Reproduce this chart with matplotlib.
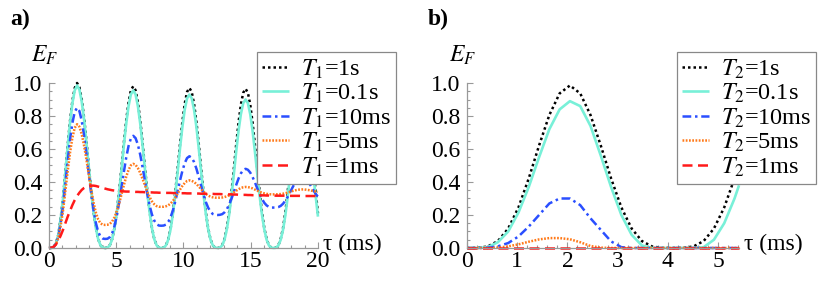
import numpy as np
import matplotlib
matplotlib.use("Agg")
import matplotlib.pyplot as plt
from matplotlib.ticker import MultipleLocator

plt.rcParams["font.family"] = "serif"
plt.rcParams["font.serif"] = ["Liberation Serif", "STIXGeneral", "DejaVu Serif"]
plt.rcParams["mathtext.fontset"] = "stix"

# panel a: tau sampled every 1/24 of the oscillation period, plus the end point
tau_a = np.append(np.arange(115) * 0.174, 20.0)

black_a = [0, .001, .006, .03, .08, .18, .30, .46, .62, .77, .89, .97, 1.0,
           .975, .901, .789, .650, .499, .354, .226, .125, .056, .017, .002,
           0, .002, .017, .055, .123, .221, .347, .489, .637, .773, .883, .956,
           .98, .956, .883, .773, .637, .489, .347, .221, .123, .055, .017, .002,
           0, .002, .016, .054, .121, .219, .343, .484, .631, .765, .874, .946,
           .97, .946, .874, .765, .631, .484, .343, .219, .121, .054, .016, .002,
           0, .002, .016, .054, .121, .218, .342, .482, .627, .761, .869, .941,
           .965, .941, .869, .761, .627, .482, .342, .218, .121, .054, .016, .002,
           0, .002, .016, .054, .12, .217, .340, .479, .624, .757, .865, .936,
           .96, .936, .865, .757, .624, .479, .340, .21]
cyan_a = [0, .001, .006, .030, .079, .177, .296, .453, .611, .758, .877, .955, .985,
          .960, .887, .777, .640, .492, .349, .223, .123, .055, .017, .002,
          0, .002, .016, .053, .119, .216, .338, .477, .621, .753, .860, .931,
          .955, .931, .860, .753, .621, .477, .338, .216, .119, .053, .016, .002,
          0, .002, .016, .052, .116, .210, .329, .464, .605, .734, .838, .907,
          .93, .907, .838, .734, .605, .464, .329, .210, .116, .052, .016, .002,
          0, .002, .015, .050, .113, .203, .319, .449, .585, .710, .811, .878,
          .90, .878, .811, .710, .585, .449, .319, .203, .113, .050, .015, .002,
          0, .002, .015, .049, .109, .198, .310, .437, .569, .690, .788, .853,
          .875, .853, .788, .690, .569, .437, .310, .19]
blue_a = [0, .001, .005, .026, .068, .153, .255, .391, .527, .655, .757, .825, .85,
          .830, .771, .682, .572, .452, .336, .235, .154, .100, .069, .057,
          .055, .056, .066, .090, .133, .196, .276, .367, .461, .548, .618, .664,
          .68, .666, .626, .565, .489, .407, .328, .258, .203, .166, .144, .136,
          .135, .136, .142, .159, .188, .230, .284, .345, .409, .467, .514, .545,
          .556, .547, .521, .481, .431, .378, .326, .280, .245, .220, .206, .201,
          .20, .201, .205, .216, .235, .263, .299, .340, .382, .421, .452, .473,
          .48, .474, .457, .430, .398, .362, .328, .298, .274, .258, .249, .245,
          .245, .245, .248, .255, .268, .287, .310, .337, .365, .391, .412, .425,
          .43, .426, .414, .396, .374, .350, .327, .31]
orange_a = [0, .001, .0045, .023, .06, .135, .225, .345, .465, .578, .668, .728, .75,
            .735, .690, .621, .537, .444, .356, .278, .216, .174, .150, .141,
            .14, .141, .146, .161, .186, .224, .271, .325, .381, .432, .473, .501,
            .51, .504, .484, .455, .419, .380, .342, .309, .283, .265, .254, .25,
            .25, .25, .253, .259, .27, .286, .307, .330, .354, .376, .394, .406,
            .41, .407, .400, .388, .373, .357, .342, .329, .318, .311, .307, .305,
            .305, .305, .306, .309, .313, .320, .328, .337, .347, .356, .364, .368,
            .37, .369, .366, .361, .354, .347, .341, .335, .331, .328, .326, .325,
            .325, .325, .326, .327, .329, .332, .336, .340, .345, .349, .352, .354,
            .355, .355, .353, .351, .348, .345, .342, .34]
red_a = [0, .002, .008, .022, .045, .075, .11, .15, .19, .225, .26, .29,
         .315, .335, .352, .364, .372, .376, .378, .378, .376, .372, .368, .364,
         .360, .356, .353, .350, .348, .346, .345, .344, .343, .342, .342, .341,
         .341, .340, .340, .339, .339, .338, .338, .337, .337, .336, .336, .335,
         .335, .335, .334, .334, .334, .333, .333, .333, .332, .332, .332, .331,
         .331, .331, .330, .330, .330, .329, .329, .329, .328, .328, .328, .327,
         .327, .327, .326, .326, .326, .325, .325, .324, .324, .323, .323, .322,
         .322, .321, .321, .320, .320, .320, .319, .319, .319, .318, .318, .318,
         .318, .317, .317, .317, .317, .317, .316, .316, .316, .316, .316, .316,
         .315, .315, .315, .315, .315, .315, .315, .315]

# panel b
tau_b = np.append(np.arange(27) * 0.205, 5.42)

black_b = [0, .0006, .009, .042, .118, .246, .422, .621, .806, .937, .985,
           .937, .806, .621, .422, .246, .118, .042, .009, .0006, 0,
           .0006, .009, .042, .118, .246, .422, .51]
cyan_b = [0, 0, .005, .035, .10, .215, .37, .55, .72, .84, .89,
          .86, .74, .56, .37, .20, .08, .015, 0, 0, 0,
          0, 0, .005, .05, .15, .30, .38]
blue_b = [0, 0, .002, .01, .03, .07, .13, .20, .27, .30, .30,
          .26, .18, .11, .04, .005, 0, 0, 0, 0, 0,
          0, 0, 0, 0, 0, 0, 0]
orange_b = [0, 0, 0, .002, .01, .022, .038, .052, .06, .06, .053,
            .035, .012, .002, 0, 0, 0, 0, 0, 0, 0,
            0, 0, 0, 0, 0, 0, 0]
red_b = [0] * 28

labels_val = ["1s", "0.1s", "10ms", "5ms", "1ms"]

styles = [
    dict(color="black", lw=1.8, ls=(0, (1, 1.2))),
    dict(color="#78f0d8", lw=1.9, ls="-"),
    dict(color="#2a4fff", lw=1.8, ls=(0, (3.5, 1.5, 1, 1.5))),
    dict(color="#ff7a1a", lw=1.8, ls=(0, (0.7, 0.6))),
    dict(color="#ff1a1a", lw=1.8, ls=(0, (4, 2.2))),
]

fig = plt.figure(figsize=(8.3, 2.88), dpi=100)
ax_a = fig.add_axes([0.0590, 0.1389, 0.3241, 0.5729])
ax_b = fig.add_axes([0.5627, 0.1389, 0.3277, 0.5729])

panels = [
    (ax_a, tau_a, [black_a, cyan_a, blue_a, orange_a, red_a], "1", 20, 5, 1),
    (ax_b, tau_b, [black_b, cyan_b, blue_b, orange_b, red_b], "2", 5.42, 1, 0.2),
]

for ax, tau, series, sub, xmax, xmaj, xmin in panels:
    for vals, lab, st in zip(series, labels_val, styles):
        ax.plot(tau, vals, label=r"$T_{%s}$=%s" % (sub, lab), clip_on=False,
                solid_capstyle="butt", dash_capstyle="butt", **st)
    ax.set_xlim(0, xmax)
    ax.set_ylim(0, 1.0)
    ax.xaxis.set_major_locator(MultipleLocator(xmaj))
    ax.xaxis.set_minor_locator(MultipleLocator(xmin))
    ax.yaxis.set_major_locator(MultipleLocator(0.2))
    ax.yaxis.set_minor_locator(MultipleLocator(0.05))
    ax.yaxis.set_major_formatter(plt.FuncFormatter(lambda v, p: "%.1f" % v))
    for s in ["top", "right"]:
        ax.spines[s].set_visible(False)
    for s in ["left", "bottom"]:
        ax.spines[s].set_color("#999999")
        ax.spines[s].set_linewidth(0.9)
    ax.tick_params(which="both", direction="in", color="#999999",
                   labelsize=17, width=0.8)
    ax.tick_params(which="major", length=4.5)
    ax.tick_params(which="minor", length=2.5)
    ax.tick_params(axis="x", pad=2)
    ax.tick_params(axis="y", pad=5)
    ax.patch.set_visible(False)
    ax.text(-0.065, 1.10, r"$E_F$", transform=ax.transAxes, fontsize=17,
            ha="left", va="bottom")
    ax.text(1.02, 0.02, "τ (ms)", transform=ax.transAxes, fontsize=17,
            ha="left", va="center")
    leg = ax.legend(loc="upper left", bbox_to_anchor=(0.773, 1.185),
                    fontsize=17.5, frameon=True, fancybox=False,
                    borderpad=0.2, labelspacing=0.05, handlelength=1.1,
                    handletextpad=0.5, borderaxespad=0)
    leg.get_frame().set_edgecolor("#888888")
    leg.get_frame().set_linewidth(0.9)
    leg.get_frame().set_alpha(1)

fig.text(10 / 830, 1 - 25 / 288, "a)", fontsize=17, fontweight="bold")
fig.text(428 / 830, 1 - 25 / 288, "b)", fontsize=17, fontweight="bold")

fig.savefig("out.png", dpi=100)
